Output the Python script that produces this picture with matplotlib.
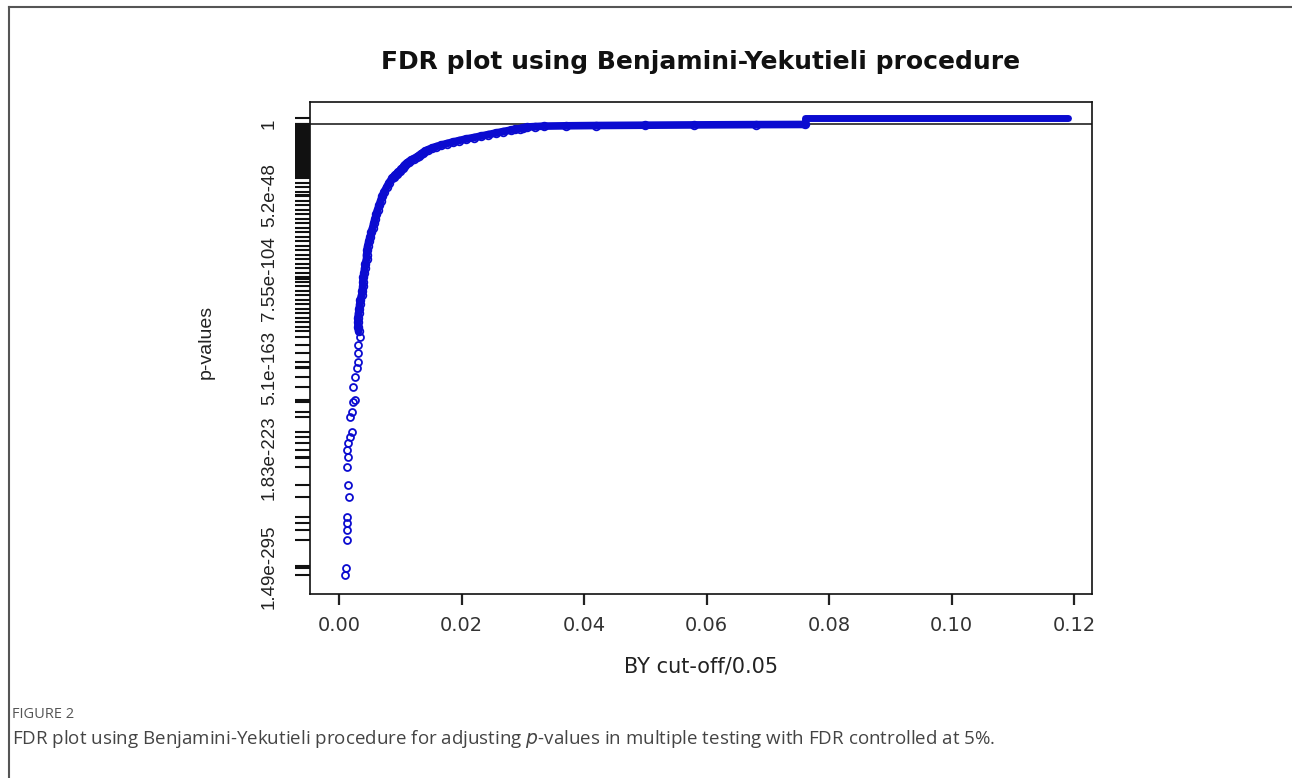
import numpy as np
import matplotlib
matplotlib.use('Agg')
from matplotlib import pyplot as plt

# BY cut-off/0.05 (x) against log10 of the p-value (y)

# scattered points at the bottom of the curve
sparse_x = [0.0010, 0.0011, 0.0013, 0.0013, 0.0013, 0.0013, 0.0016, 0.0015, 0.0013,
            0.0015, 0.0013, 0.0015, 0.0018, 0.0021, 0.0018, 0.0021, 0.0023, 0.0026,
            0.0023, 0.0026, 0.0029, 0.0031, 0.0031, 0.0031, 0.0034]
sparse_logp = [-300.5, -296.0, -277.3, -270.7, -266.0, -262.0, -248.7, -240.7, -228.7,
               -222.0, -217.3, -212.7, -208.7, -205.3, -195.3, -192.0, -185.3, -184.0,
               -175.3, -168.7, -162.7, -158.7, -152.7, -147.3, -142.0]

# the dense part of the curve
dense_x = [0.0032, 0.0031, 0.0031, 0.0031, 0.0032, 0.0033, 0.0034, 0.0035, 0.0037, 0.0038,
           0.0039, 0.0039, 0.0040, 0.0041, 0.0042, 0.0043, 0.0045, 0.0045, 0.0046, 0.0047,
           0.0049, 0.0051, 0.0053, 0.0055, 0.0057, 0.0059, 0.0061, 0.0063, 0.0066, 0.0068,
           0.0071, 0.0074, 0.0078, 0.0082, 0.0087, 0.0089, 0.0092, 0.0094, 0.0097, 0.0100,
           0.0102, 0.0104, 0.0106, 0.0108, 0.0111, 0.0114, 0.0118, 0.0122, 0.0127, 0.0130,
           0.0134, 0.0137, 0.0141, 0.0146, 0.0152, 0.0159, 0.0167, 0.0176, 0.0186, 0.0196,
           0.0207, 0.0220, 0.0232, 0.0244, 0.0256, 0.0268, 0.0281, 0.0288, 0.0295, 0.0301,
           0.0307, 0.0320, 0.0335, 0.0370, 0.0420, 0.0500, 0.0580, 0.0680, 0.0761]
dense_logp = [-138, -135, -132, -129, -126, -123, -120, -117, -114, -111,
              -108, -105, -102, -99, -96, -93, -90, -87, -84, -81,
              -78, -75, -72, -69, -66, -63, -60, -57, -54, -51,
              -48, -45, -42, -39, -36, -35, -34, -33, -32, -31,
              -30, -29, -28, -27, -26, -25, -24, -23, -22, -21,
              -20, -19, -18, -17, -16, -15, -14, -13, -12, -11,
              -10, -9, -8, -7, -6, -5, -4, -3.5, -3, -2.5,
              -2, -1.7, -1.4, -1.2, -1.0, -0.8, -0.6, -0.4, -0.3]

# the last step, above the p = 1 line
top_x = [0.0761, 0.0761, 0.0900, 0.1050, 0.1190]
top_logp = [-0.3, 4.2, 4.2, 4.2, 4.2]

ytick_pos = [0, -47.28, -103.12, -162.29, -222.74, -294.83]
ytick_labels = ['1', '5.2e-48', '7.55e-104', '5.1e-163', '1.83e-223', '1.49e-295']
xticks = [0.00, 0.02, 0.04, 0.06, 0.08, 0.10, 0.12]

blue = '#0b0bd0'

fig = plt.figure(figsize=(12.92, 7.78), dpi=100)
ax = fig.add_axes([310 / 1292, 1 - 594 / 778, 782 / 1292, 492 / 778])

ax.plot(dense_x, dense_logp, color=blue, lw=5.5, solid_capstyle='round', zorder=3)
ax.plot(top_x, top_logp, color=blue, lw=5, solid_capstyle='round', zorder=3)
ax.plot(dense_x, dense_logp, 'o', ms=5.5, mfc='none', mec=blue, mew=1.3, zorder=4)
ax.plot(sparse_x, sparse_logp, 'o', ms=5, mfc='none', mec=blue, mew=1.3, zorder=4)
ax.axhline(0, color='#222222', lw=1.2, zorder=2)

ax.set_xlim(-0.00473, 0.1229)
ax.set_ylim(-313.3, 14.67)

for s in ax.spines.values():
    s.set_linewidth(1.2)
    s.set_color('#111111')

ax.set_xticks(xticks)
ax.set_xticklabels(['%.2f' % v for v in xticks], fontsize=14, color='#333333')
ax.tick_params(axis='x', direction='out', length=8, width=1.6, pad=8, color='#222222')

# rug of p-value levels on the y axis
rug = sparse_logp + dense_logp + top_logp[1:2]
ax.set_yticks(rug, minor=True)
ax.set_yticks(ytick_pos)
ax.set_yticklabels(ytick_labels, rotation=90, va='center', fontsize=13.5,
                   family='Liberation Sans', color='#222222')
ax.tick_params(axis='y', which='both', direction='out', length=11, width=1.5,
               pad=12, color='#111111')

fig.text(701 / 1292, 1 - 62 / 778, 'FDR plot using Benjamini-Yekutieli procedure',
         ha='center', va='center', fontsize=18, fontweight='bold', color='#111111')
fig.text(701 / 1292, 1 - 667 / 778, 'BY cut-off/0.05', ha='center', va='center',
         fontsize=15, color='#222222')
fig.text(206 / 1292, 1 - 342 / 778, 'p-values', ha='center', va='center', rotation=90,
         fontsize=14, family='Liberation Sans', color='#222222')

# outer frame of the figure panel
fig.add_artist(plt.Line2D([9 / 1292, 9 / 1292], [0, 1 - 7 / 778], color='#555555', lw=1.5,
                          transform=fig.transFigure))
fig.add_artist(plt.Line2D([9 / 1292, 1], [1 - 7 / 778, 1 - 7 / 778], color='#555555', lw=1.5,
                          transform=fig.transFigure))

fig.text(12 / 1292, 1 - 715 / 778, 'FIGURE 2', ha='left', va='center', fontsize=10.5,
         family='Open Sans', color='#555555')
fig.text(12 / 1292, 1 - 739 / 778,
         'FDR plot using Benjamini-Yekutieli procedure for adjusting $\\it{p}$-values in '
         'multiple testing with FDR controlled at 5%.',
         ha='left', va='center', fontsize=13.5, family='Open Sans', color='#444444')

fig.savefig('out.png', dpi=100)
